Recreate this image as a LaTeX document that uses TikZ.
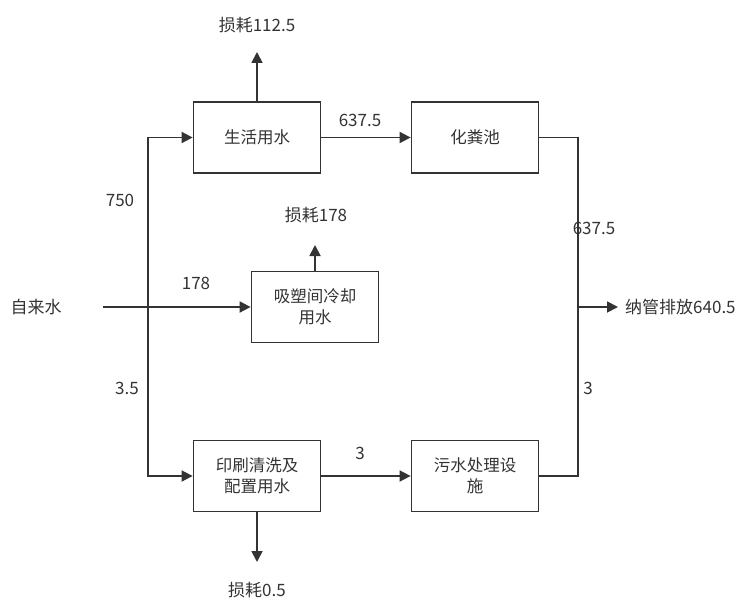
\documentclass[tikz,border=0pt]{standalone}
\usepackage{fontspec}
\setmainfont{Noto Sans CJK SC}
\usetikzlibrary{arrows.meta}
\definecolor{ink}{HTML}{333333}
\tikzset{
  box/.style={draw=ink, line width=1.8pt, minimum width=127pt, minimum height=71pt, align=center, inner sep=2pt, text=ink, font=\fontsize{16.5pt}{21pt}\selectfont},
  lbl/.style={text=ink, font=\fontsize{17pt}{20pt}\selectfont, inner sep=1pt},
  flow/.style={draw=ink, line width=1.8pt, -{Triangle[length=11pt,width=11pt]}},
  line/.style={draw=ink, line width=1.8pt}
}
\begin{document}
\begin{tikzpicture}[x=1pt,y=-1pt]
\useasboundingbox (0,0) rectangle (743,599);
% boxes
\node[box] (b1) at (257,137.5) {生活用水};
\node[box] (b2) at (475,137.5) {化粪池};
\node[box] (b3) at (315,307) {吸塑间冷却\\用水};
\node[box] (b4) at (257,476) {印刷清洗及\\配置用水};
\node[box] (b5) at (475,476) {污水处理设\\施};
% labels
\node[lbl] (src) at (36,307) {自来水};
\node[lbl] (out) [anchor=west] at (624,307) {纳管排放640.5};
\node[lbl] (loss1) at (257,25) {损耗112.5};
\node[lbl] (loss2) at (316,215) {损耗178};
\node[lbl] (loss3) at (257,590) {损耗0.5};
\node[lbl] (n750) at (120,200) {750};
\node[lbl] (n178) at (196,283) {178};
\node[lbl] (n35) at (127,388) {3.5};
\node[lbl] (n6375a) at (360,120) {637.5};
\node[lbl] (n3a) at (360,453) {3};
\node[lbl] (n6375b) at (594,228) {637.5};
\node[lbl] (n3b) at (588,388) {3};
% coordinates
\coordinate (start) at (103,307);
\coordinate (jl) at (148,307);
\coordinate (jr) at (578,307);
\coordinate (up1) at (257,52);
\coordinate (up2) at (315,245);
\coordinate (dn4) at (257,562);
\coordinate (outend) at (618,307);
% connectors
\draw[flow] (start) -- (b3.west);
\draw[flow] (jl) |- (b1.west);
\draw[flow] (jl) |- (b4.west);
\draw[flow] (b1) -- (b2);
\draw[flow] (b4) -- (b5);
\draw[line] (b2.east) -| (jr);
\draw[line] (b5.east) -| (jr);
\draw[flow] (jr) -- (outend);
\draw[flow] (b1.north) -- (up1);
\draw[flow] (b3.north) -- (up2);
\draw[flow] (b4.south) -- (dn4);
\end{tikzpicture}
\end{document}
